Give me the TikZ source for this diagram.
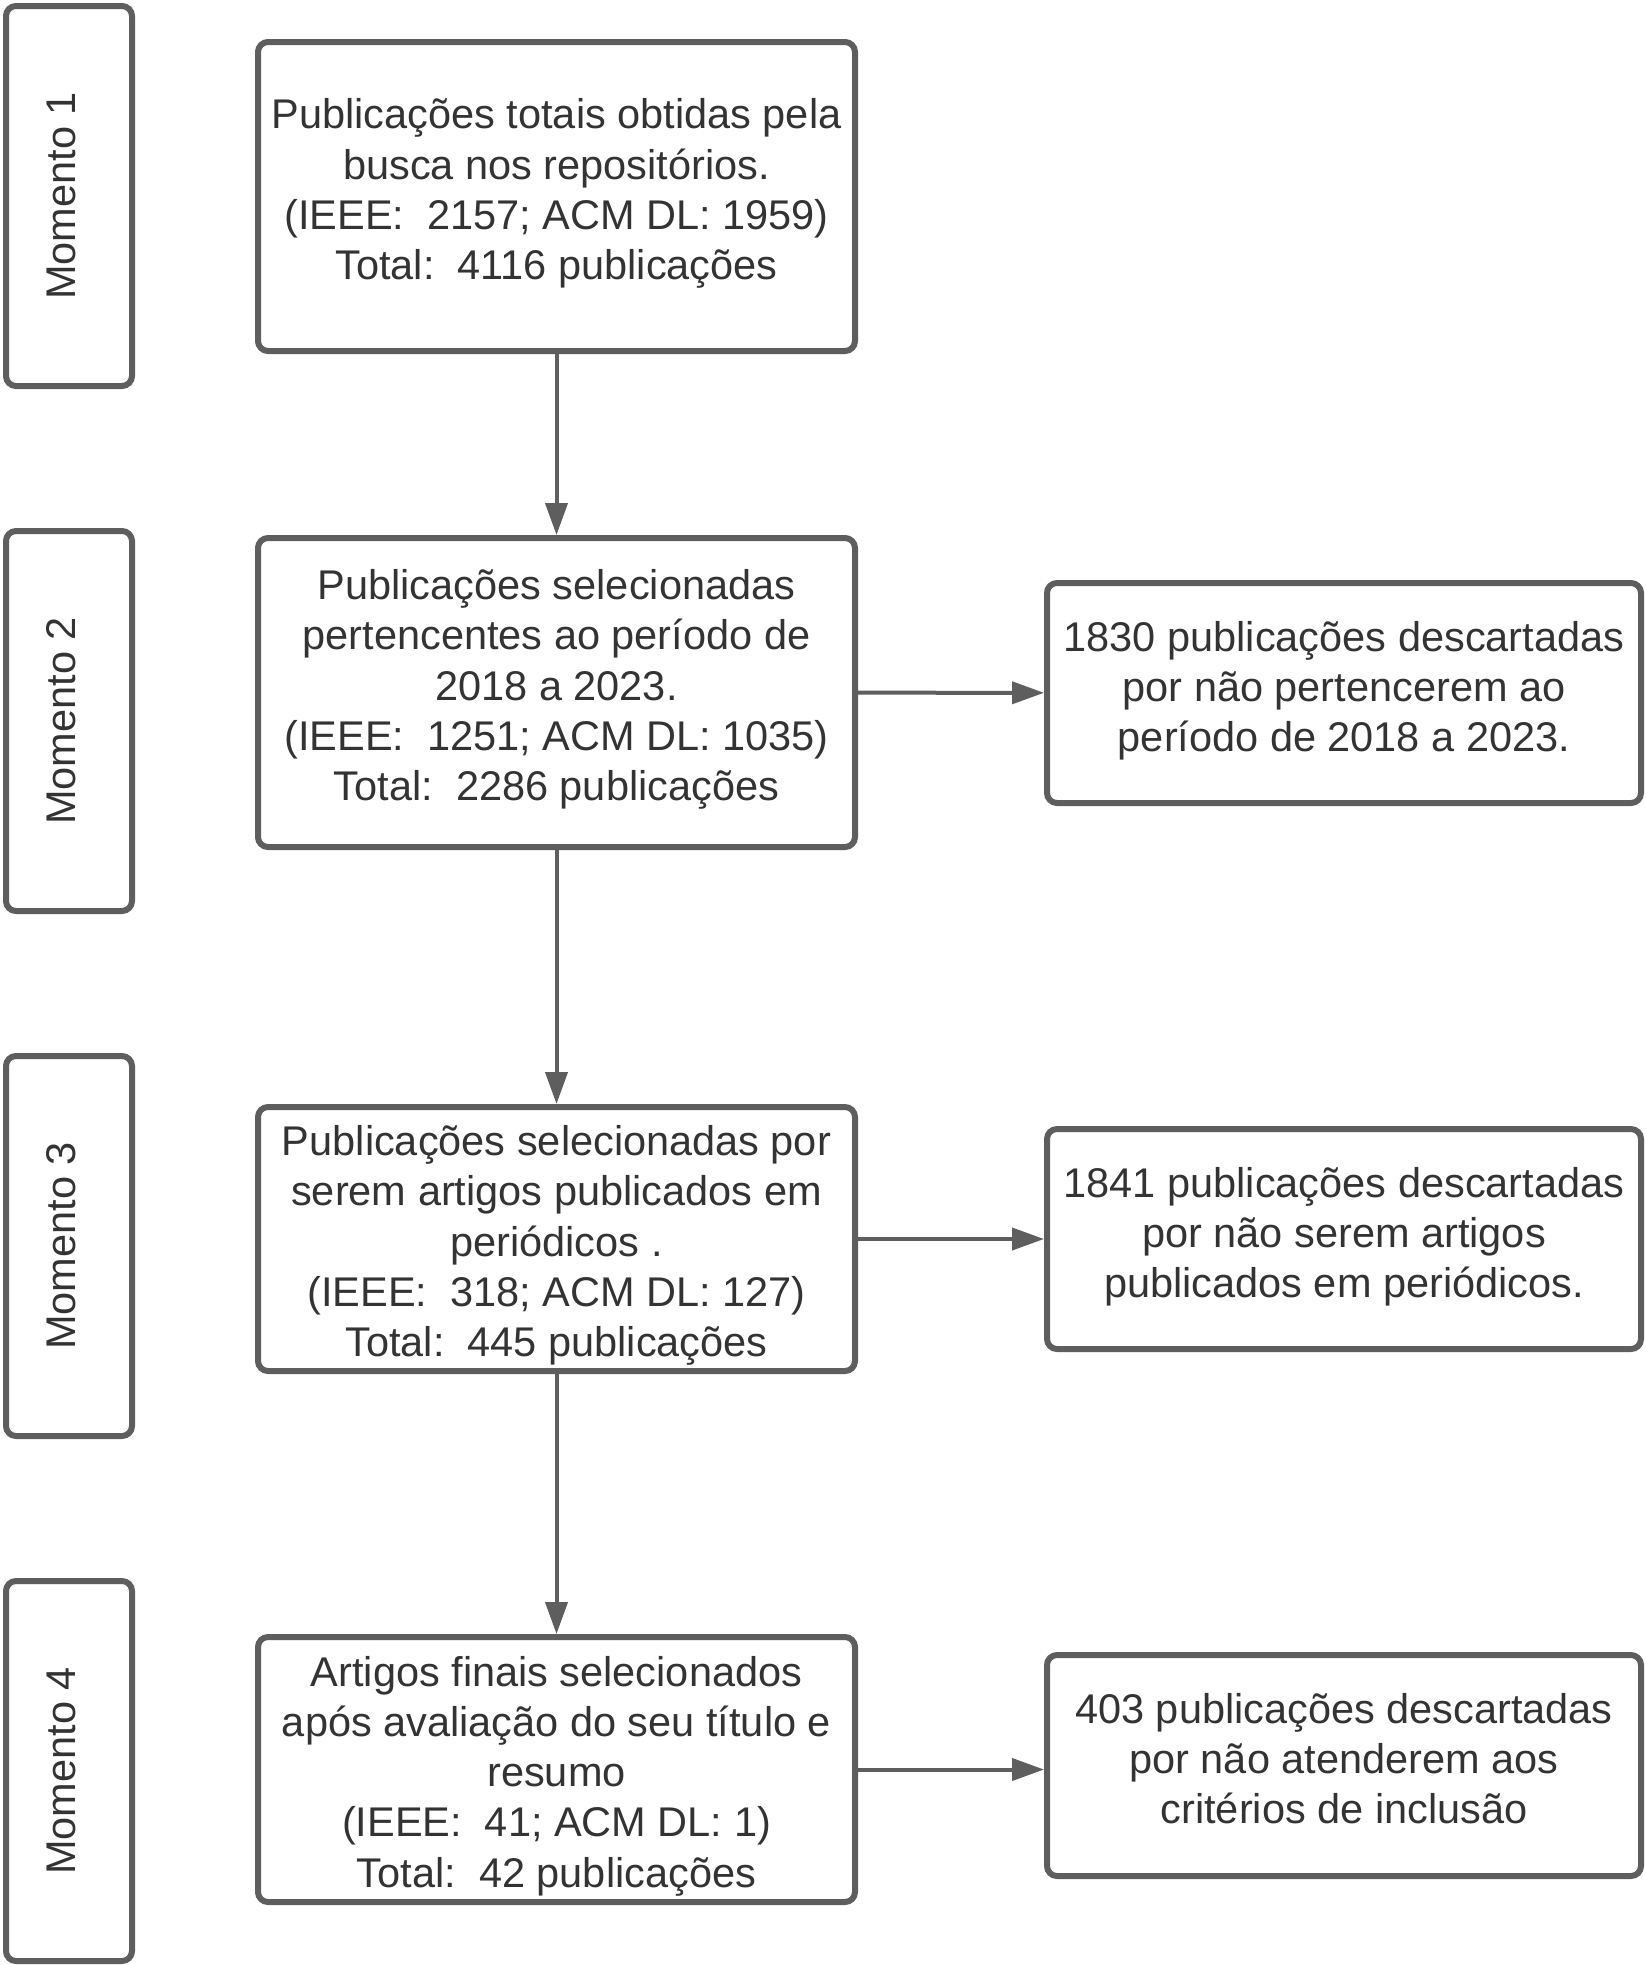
\documentclass[tikz,border=0pt]{standalone}
\usepackage{fontspec}
\setmainfont{Liberation Sans}
\usetikzlibrary{arrows.meta}
\definecolor{edgegray}{RGB}{94,94,94}
\definecolor{ink}{RGB}{51,51,51}
\begin{document}
\begin{tikzpicture}[x=1pt,y=-1pt,
 box/.style={draw=edgegray, line width=6pt, rounded corners=10pt, rectangle, inner sep=0pt, fill=white},
 txt/.style={text=ink, align=center, font=\fontsize{41.5}{50.2}\selectfont\frenchspacing, inner sep=0pt},
 mom/.style={text=ink, rotate=90, font=\fontsize{41.5}{50.2}\selectfont, inner sep=0pt},
 arr/.style={draw=edgegray, line width=4pt, -{Triangle[length=32pt,width=22pt]}}]
\useasboundingbox (0,0) rectangle (1646,1965);

% Momento boxes
\node[box, minimum width=126pt, minimum height=380pt] (m1) at (69,196) {};
\node[box, minimum width=126pt, minimum height=380pt] (m2) at (69,721) {};
\node[box, minimum width=126pt, minimum height=380pt] (m3) at (69,1246) {};
\node[box, minimum width=126pt, minimum height=380pt] (m4) at (69,1771) {};
\node[mom] (mt1) at ([xshift=-8pt]m1.center) {Momento 1};
\node[mom] (mt2) at ([xshift=-8pt]m2.center) {Momento 2};
\node[mom] (mt3) at ([xshift=-8pt]m3.center) {Momento 3};
\node[mom] (mt4) at ([xshift=-8pt]m4.center) {Momento 4};

% main boxes
\node[box, minimum width=597pt, minimum height=309pt] (b1) at (556.5,196.5) {};
\node[box, minimum width=597pt, minimum height=309pt] (b2) at (556.5,692.5) {};
\node[box, minimum width=597pt, minimum height=264pt] (b3) at (556.5,1239) {};
\node[box, minimum width=597pt, minimum height=265pt] (b4) at (556.5,1769.5) {};

\node[txt] (t1) at ([yshift=3pt]b1.center) {Publicações totais obtidas pela\\busca nos repositórios.\\(IEEE: \ 2157; ACM DL: 1959)\\Total: \ 4116 publicações};
\node[txt] (t2) at ([yshift=3pt]b2.center) {Publicações selecionadas\\pertencentes ao período de\\2018 a 2023.\\(IEEE: \ 1251; ACM DL: 1035)\\Total: \ 2286 publicações};
\node[txt] (t3) at ([yshift=-6.5pt]b3.center) {Publicações selecionadas por\\serem artigos publicados em\\periódicos .\\(IEEE: \ 318; ACM DL: 127)\\Total: \ 445 publicações};
\node[txt] (t4) at ([yshift=-6.5pt]b4.center) {Artigos finais selecionados\\após avaliação do seu título e\\resumo\\(IEEE: \ 41; ACM DL: 1)\\Total: \ 42 publicações};

% right boxes
\node[box, minimum width=594pt, minimum height=220pt] (r2) at (1344,693) {};
\node[box, minimum width=594pt, minimum height=220pt] (r3) at (1344,1239) {};
\node[box, minimum width=594pt, minimum height=221pt] (r4) at (1344,1765.5) {};

\node[txt] (s2) at ([yshift=2pt]r2.center) {1830 publicações descartadas\\por não pertencerem ao\\período de 2018 a 2023.};
\node[txt] (s3) at ([yshift=2pt]r3.center) {1841 publicações descartadas\\por não serem artigos\\publicados em periódicos.};
\node[txt] (s4) at ([yshift=7pt]r4.center) {403 publicações descartadas\\por não atenderem aos\\critérios de inclusão};

% connectors
\draw[arr] (b1) -- (b2);
\draw[arr] (b2) -- (b3);
\draw[arr] (b3) -- (b4);
\draw[arr] (b2) -- (r2);
\draw[arr] (b3) -- (r3);
\draw[arr] (b4.east) -- (b4.east -| r4.west);
\end{tikzpicture}
\end{document}
